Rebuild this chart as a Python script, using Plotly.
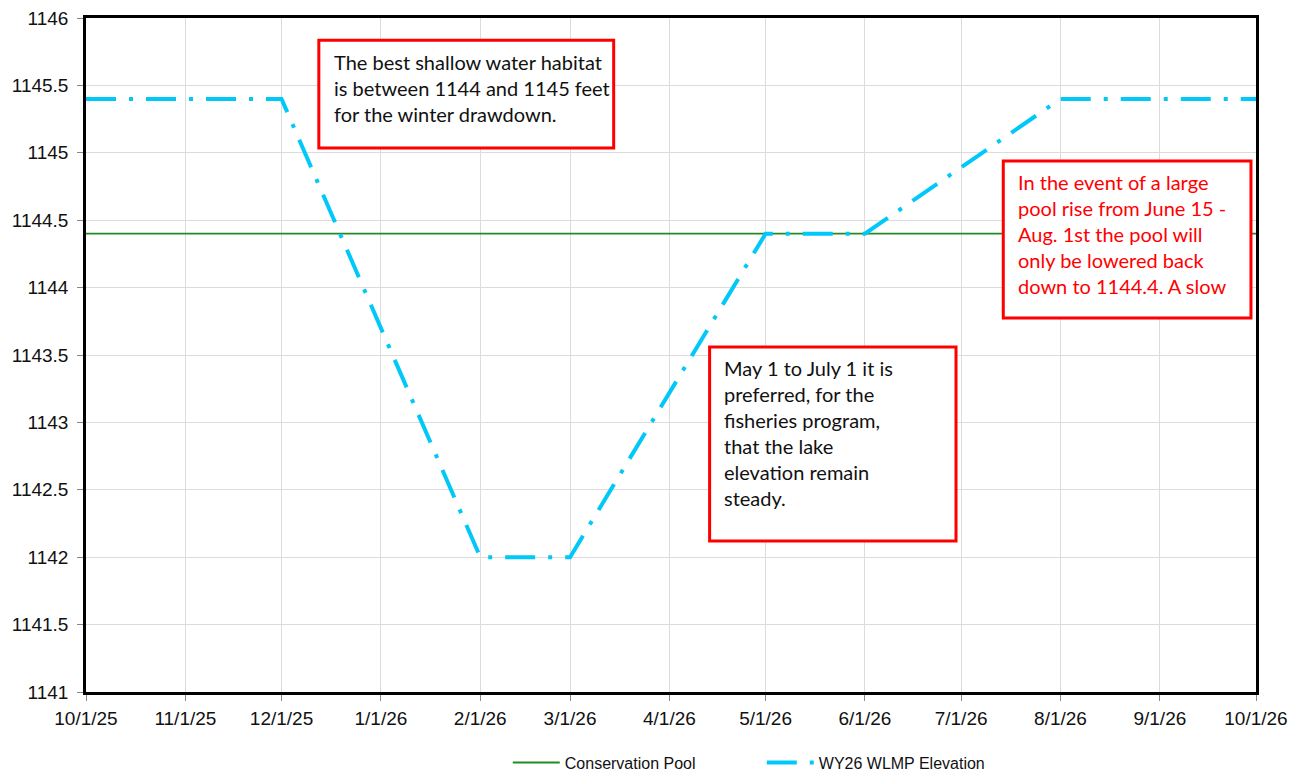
import plotly.graph_objects as go

# ---- data ----
wlmp_dates = ["2025-10-01", "2025-12-01", "2026-02-01", "2026-03-01",
              "2026-05-01", "2026-06-01", "2026-08-01", "2026-10-01"]
wlmp_elev = [1145.4, 1145.4, 1142.0, 1142.0, 1144.4, 1144.4, 1145.4, 1145.4]

pool_dates = ["2025-10-01", "2026-10-01"]
pool_elev = [1144.4, 1144.4]

tick_dates = ["2025-10-01", "2025-11-01", "2025-12-01", "2026-01-01", "2026-02-01",
              "2026-03-01", "2026-04-01", "2026-05-01", "2026-06-01", "2026-07-01",
              "2026-08-01", "2026-09-01", "2026-10-01"]
tick_labels = ["10/1/25", "11/1/25", "12/1/25", "1/1/26", "2/1/26", "3/1/26", "4/1/26",
               "5/1/26", "6/1/26", "7/1/26", "8/1/26", "9/1/26", "10/1/26"]

y_ticks = [1141, 1141.5, 1142, 1142.5, 1143, 1143.5, 1144, 1144.5, 1145, 1145.5, 1146]
y_labels = ["1141", "1141.5", "1142", "1142.5", "1143", "1143.5", "1144", "1144.5",
            "1145", "1145.5", "1146"]

note1 = "The best shallow water habitat<br>is between 1144 and 1145 feet<br>for the winter drawdown."
note2 = ("In the event of a large<br>pool rise from June 15 -<br>Aug. 1st the pool will<br>"
         "only be lowered back<br>down to 1144.4. A slow")
note3 = ("May 1 to July 1 it is<br>preferred, for the<br>fisheries program,<br>"
         "that the lake<br>elevation remain<br>steady.")

fig = go.Figure()
fig.add_trace(go.Scatter(x=pool_dates, y=pool_elev, mode="lines", name="Conservation Pool",
                         line=dict(color="#228b22", width=1.8)))
fig.add_trace(go.Scatter(x=wlmp_dates, y=wlmp_elev, mode="lines", name="WY26 WLMP Elevation",
                         line=dict(color="#00c8f8", width=4, dash="30px,13px,4px,13px")))

# boxes (paper coords)
boxes = [(0.199, 0.451, 0.807, 0.967), (0.784, 0.9957, 0.555, 0.788), (0.533, 0.7436, 0.224, 0.512)]
for x0, x1, y0, y1 in boxes:
    fig.add_shape(type="rect", xref="paper", yref="paper", x0=x0, x1=x1, y0=y0, y1=y1,
                  line=dict(color="#ff0000", width=3), fillcolor="white", layer="above")

font_note = "Lato, Carlito, Calibri, sans-serif"
fig.add_annotation(xref="paper", yref="paper", x=0.210, y=0.955, xanchor="left", yanchor="top",
                   text=note1, showarrow=False, align="left",
                   font=dict(family=font_note, size=20, color="#111111"))
fig.add_annotation(xref="paper", yref="paper", x=0.795, y=0.778, xanchor="left", yanchor="top",
                   text=note2, showarrow=False, align="left",
                   font=dict(family=font_note, size=20, color="#ff0000"))
fig.add_annotation(xref="paper", yref="paper", x=0.544, y=0.502, xanchor="left", yanchor="top",
                   text=note3, showarrow=False, align="left",
                   font=dict(family=font_note, size=20, color="#111111"))

axis_font = dict(family="Liberation Sans, Arial, sans-serif", size=19, color="#111111")
fig.update_layout(
    width=1302, height=775,
    margin=dict(l=86, r=46, t=18, b=83, autoexpand=False),
    paper_bgcolor="white", plot_bgcolor="white",
    showlegend=True,
    legend=dict(orientation="h", xref="container", yref="container",
                x=0.390, xanchor="left", y=0.016, yanchor="middle",
                font=dict(family="Liberation Sans, Arial, sans-serif", size=16, color="#111111"),
                itemwidth=47, tracegroupgap=0, entrywidth=192),
    xaxis=dict(type="date", range=["2025-10-01", "2026-10-01"], tickvals=tick_dates,
               ticktext=tick_labels, tickfont=axis_font, showgrid=True, gridcolor="#dcdcdc",
               gridwidth=1, showline=True, linecolor="black", linewidth=2.5, mirror=True,
               ticks="outside", ticklen=6, tickcolor="#888888", zeroline=False,
               ticklabelstandoff=1, automargin=False),
    yaxis=dict(range=[1141, 1146], tickvals=y_ticks, ticktext=y_labels, tickfont=axis_font,
               showgrid=True, gridcolor="#dcdcdc", gridwidth=1, showline=True,
               linecolor="black", linewidth=2.5, mirror=True, ticks="outside", ticklen=6,
               tickcolor="#888888", zeroline=False, ticklabelstandoff=5, automargin=False),
)

fig.write_html("out.html", config={"displayModeBar": False},
               post_script="document.body.style.margin='0';")
